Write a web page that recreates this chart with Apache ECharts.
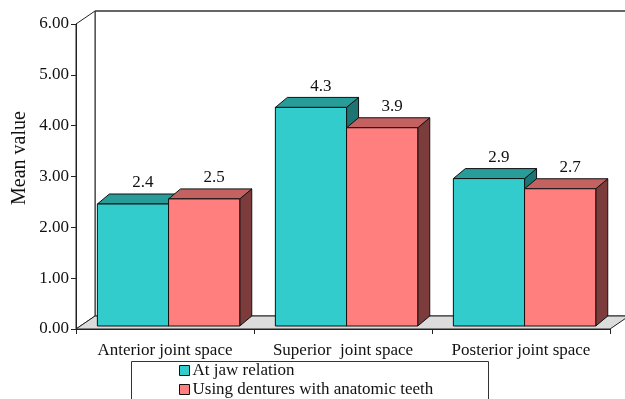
<!DOCTYPE html>
<html>
<head>
<meta charset="utf-8">
<script src="https://cdn.jsdelivr.net/npm/echarts@6/dist/echarts.min.js"></script>
<style>
  html, body { margin: 0; padding: 0; background: #fff; }
  #chart { width: 625px; height: 399px; }
</style>
</head>
<body>
<div id="chart"></div>
<script>
// Joint space measurements (mean values)
const categories = ['Anterior joint space', 'Superior  joint space', 'Posterior joint space'];
const seriesNames = ['At jaw relation', 'Using dentures with anatomic teeth'];
const jawRelation = [2.4, 4.3, 2.9];
const anatomicDentures = [2.5, 3.9, 2.7];
const yMin = 0, yMax = 6, yStep = 1;

const SERIF = '"Liberation Serif", "Times New Roman", serif';

// Face colours for each bar series: front, top, side
const palettes = [
  { front: '#33CCCC', top: '#279C99', side: '#1C7573' },
  { front: '#FF7F7F', top: '#C46161', side: '#7D3C3C' }
];

// Oblique offsets: chart frame depth and bar depth
const FRAME_DX = 19, FRAME_DY = -13;
const BAR_DX = 12, BAR_DY = -10;
const BAR_SHIFT_Y = -3;

function frameRenderer(params, api) {
  const cs = params.coordSys;
  const L = cs.x, R = cs.x + cs.width, T = cs.y, B = cs.y + cs.height;
  const line = { stroke: '#222', lineWidth: 1 };
  return {
    type: 'group',
    children: [
      // back wall
      { type: 'polygon', shape: { points: [[L + FRAME_DX, T + FRAME_DY], [R + FRAME_DX, T + FRAME_DY], [R + FRAME_DX, B + FRAME_DY], [L + FRAME_DX, B + FRAME_DY]] },
        style: Object.assign({ fill: '#fff' }, line) },
      // top edge of the back wall
      { type: 'line', shape: { x1: L + FRAME_DX, y1: T + FRAME_DY, x2: R + FRAME_DX, y2: T + FRAME_DY },
        style: { stroke: '#666', lineWidth: 2 } },
      // left wall
      { type: 'polygon', shape: { points: [[L, T], [L + FRAME_DX, T + FRAME_DY], [L + FRAME_DX, B + FRAME_DY], [L, B]] },
        style: Object.assign({ fill: '#fff' }, line) },
      // floor
      { type: 'polygon', shape: { points: [[L, B], [R, B], [R + FRAME_DX, B + FRAME_DY], [L + FRAME_DX, B + FRAME_DY]] },
        style: Object.assign({ fill: '#DCDCDC' }, line) }
    ]
  };
}

function barRenderer(slot, pal) {
  return function (params, api) {
    const i = api.value(0);
    const v = api.value(1);
    const base = api.coord([i, 0]);
    const top = api.coord([i, v]);
    const band = api.size([1, 0])[0];
    const w = band * 0.4;
    const cx = base[0] + band * 0.02;
    const x0 = slot === 0 ? cx - w : cx;
    const x1 = x0 + w;
    const yb = base[1] + BAR_SHIFT_Y;
    const yt = top[1] + BAR_SHIFT_Y;
    const stroke = { stroke: '#111', lineWidth: 1 };
    return {
      type: 'group',
      children: [
        { type: 'polygon', shape: { points: [[x1, yt], [x1 + BAR_DX, yt + BAR_DY], [x1 + BAR_DX, yb + BAR_DY], [x1, yb]] },
          style: Object.assign({ fill: pal.side }, stroke) },
        { type: 'polygon', shape: { points: [[x0, yt], [x0 + BAR_DX, yt + BAR_DY], [x1 + BAR_DX, yt + BAR_DY], [x1, yt]] },
          style: Object.assign({ fill: pal.top }, stroke) },
        { type: 'rect', shape: { x: x0, y: yt, width: w, height: yb - yt },
          style: Object.assign({ fill: pal.front }, stroke) },
        { type: 'text', x: x0 + w / 2 + 10, y: yt - 21,
          style: { text: v.toFixed(1), font: '17px ' + SERIF, fill: '#111', align: 'center', verticalAlign: 'middle' } }
      ]
    };
  };
}

const chart = echarts.init(document.getElementById('chart'), null, { renderer: 'canvas' });

chart.setOption({
  animation: false,
  backgroundColor: '#fff',
  grid: { left: 76, right: 15, top: 24, bottom: 70, containLabel: false },
  xAxis: {
    type: 'category',
    data: categories,
    axisLine: { show: true, lineStyle: { color: '#222', width: 1 } },
    axisTick: { show: true, length: 5, lineStyle: { color: '#222' } },
    axisLabel: { color: '#111', fontFamily: SERIF, fontSize: 17, margin: 13, interval: 0, hideOverlap: false },
    splitLine: { show: false },
    z: 5
  },
  yAxis: {
    type: 'value',
    min: yMin, max: yMax, interval: yStep,
    axisLine: { show: true, lineStyle: { color: '#222', width: 1 } },
    axisTick: { show: true, length: 5, lineStyle: { color: '#222' } },
    axisLabel: { color: '#111', fontFamily: SERIF, fontSize: 17, margin: 7,
      formatter: v => v.toFixed(2) },
    splitLine: { show: false },
    z: 5
  },
  legend: {
    orient: 'vertical',
    left: 179, top: 362,
    padding: 0,
    itemWidth: 10, itemHeight: 10, itemGap: 2,
    icon: 'rect',
    textStyle: { color: '#111', fontFamily: SERIF, fontSize: 17, lineHeight: 17, padding: [0, 0, 0, -2] },
    data: seriesNames.map((n, k) => ({
      name: n,
      itemStyle: { color: palettes[k].front, borderColor: '#111', borderWidth: 1 }
    }))
  },
  graphic: [
    { type: 'rect', z: 0, shape: { x: 131.5, y: 361.5, width: 357, height: 60 },
      style: { fill: 'none', stroke: '#333', lineWidth: 1 } },
    { type: 'text', x: 20, y: 158, rotation: Math.PI / 2,
      style: { text: 'Mean value', font: '20px ' + SERIF, fill: '#111', align: 'center', verticalAlign: 'middle' } }
  ],
  series: [
    {
      type: 'custom', name: 'frame', silent: true, z: 1,
      renderItem: frameRenderer,
      data: [[0, 0]]
    },
    {
      type: 'custom', name: seriesNames[0], z: 2,
      itemStyle: { color: palettes[0].front },
      renderItem: barRenderer(0, palettes[0]),
      encode: { x: 0, y: 1 },
      data: jawRelation.map((v, i) => [i, v])
    },
    {
      type: 'custom', name: seriesNames[1], z: 3,
      itemStyle: { color: palettes[1].front },
      renderItem: barRenderer(1, palettes[1]),
      encode: { x: 0, y: 1 },
      data: anatomicDentures.map((v, i) => [i, v])
    }
  ]
});
</script>
</body>
</html>
